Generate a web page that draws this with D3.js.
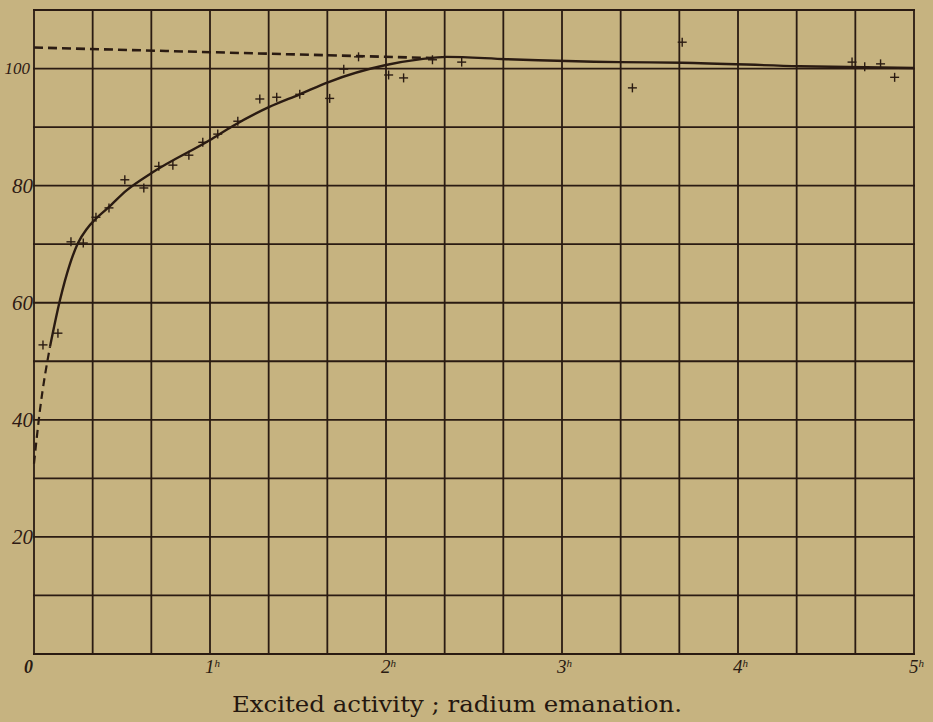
<!DOCTYPE html>
<html>
<head>
<meta charset="utf-8">
<script src="https://cdn.jsdelivr.net/npm/d3@7"></script>
<style>
  html, body { margin: 0; padding: 0; background: #c6b380; }
  svg { display: block; }
</style>
</head>
<body>
<svg id="chart" width="933" height="722"></svg>
<script>
// Excited activity of radium emanation: activity (%) against time (hours)

// Observed points (time in hours, activity in %)
const obsTime = [0.051, 0.136, 0.21, 0.28, 0.352, 0.426, 0.516, 0.624, 0.709, 0.789,
                 0.88, 0.959, 1.044, 1.158, 1.283, 1.379, 1.51, 1.68, 1.76, 1.844,
                 2.015, 2.1, 2.264, 2.43, 3.40, 3.683, 4.648, 4.72, 4.81, 4.89];
const obsValue = [52.8, 54.8, 70.4, 70.2, 74.6, 76.2, 81.0, 79.6, 83.3, 83.5,
                  85.2, 87.4, 88.8, 91.0, 94.8, 95.1, 95.6, 94.9, 99.9, 102.0,
                  98.9, 98.4, 101.5, 101.1, 96.7, 104.5, 101.1, 100.3, 100.8, 98.5];

// Smooth curve drawn through the observations
const curveTime  = [0.091, 0.148, 0.204, 0.25, 0.30, 0.35, 0.42, 0.526, 0.67, 1.0, 1.13,
                    1.334, 1.51, 1.674, 2.0, 2.2, 2.344, 2.685, 3.326, 3.68, 4.35, 5.0];
const curveValue = [52.5, 60.5, 66.6, 70.2, 72.6, 74.3, 76.2, 79.2, 82.2, 87.8, 90.2,
                    93.4, 95.6, 97.7, 100.6, 101.6, 102.0, 101.6, 101.1, 101.0, 100.4, 100.1];

// Dashed extrapolations: back to zero time, and the upper limiting line
const lowDashTime  = [0, 0.034, 0.091];
const lowDashValue = [32.5, 41.7, 52.5];
const topDashTime  = [0, 0.75, 1.5, 2.264];
const topDashValue = [103.6, 103.0, 102.4, 101.8];

// Axis labels
const yTicks = [20, 40, 60, 80, 100];
const xTicks = [1, 2, 3, 4, 5];
const caption = "Excited activity ;  radium emanation.";

const ink = "#2a1b12";
const svg = d3.select("#chart");

const x = d3.scaleLinear().domain([0, 5]).range([34, 914]);
const y = d3.scaleLinear().domain([0, 110]).range([654, 10]);

// grid: 20-minute verticals and 10% horizontals
const grid = svg.append("g").attr("stroke", ink).attr("stroke-width", 1.8).attr("fill", "none");
grid.selectAll("line.v").data(d3.range(0, 16).map(k => k / 3)).join("line")
  .attr("class", "v")
  .attr("x1", d => x(d)).attr("x2", d => x(d))
  .attr("y1", y(110)).attr("y2", y(0));
grid.selectAll("line.h").data(d3.range(0, 111, 10)).join("line")
  .attr("class", "h")
  .attr("x1", x(0) - 1).attr("x2", x(5) + 1)
  .attr("y1", d => y(d)).attr("y2", d => y(d));

const smooth = d3.line().x(d => x(d[0])).y(d => y(d[1])).curve(d3.curveMonotoneX);

// fitted curve
svg.append("path")
  .datum(d3.zip(curveTime, curveValue))
  .attr("d", smooth)
  .attr("fill", "none").attr("stroke", ink).attr("stroke-width", 2.4);

// dashed extrapolations
svg.append("path")
  .datum(d3.zip(topDashTime, topDashValue))
  .attr("d", smooth)
  .attr("fill", "none").attr("stroke", ink).attr("stroke-width", 2.6)
  .attr("stroke-dasharray", "9,5");
svg.append("path")
  .datum(d3.zip(lowDashTime, lowDashValue))
  .attr("d", smooth)
  .attr("fill", "none").attr("stroke", ink).attr("stroke-width", 2.2)
  .attr("stroke-dasharray", "8,5");

// observation crosses
const arm = 4.5;
const pts = svg.append("g").attr("stroke", ink).attr("stroke-width", 1.4);
d3.zip(obsTime, obsValue).forEach(([t, v]) => {
  pts.append("line").attr("x1", x(t) - arm).attr("x2", x(t) + arm)
    .attr("y1", y(v)).attr("y2", y(v));
  pts.append("line").attr("x1", x(t)).attr("x2", x(t))
    .attr("y1", y(v) - arm).attr("y2", y(v) + arm);
});

// y labels
svg.append("g")
  .selectAll("text").data(yTicks).join("text")
  .attr("x", d => d === 100 ? 30 : 33)
  .attr("y", d => y(d))
  .attr("dy", "0.35em")
  .attr("text-anchor", "end")
  .attr("font-family", "Liberation Serif, serif")
  .attr("font-style", "italic")
  .attr("font-size", d => d === 100 ? 17 : 21)
  .attr("fill", "#2e1a14")
  .text(d => d);

// x labels with hour mark
const xl = svg.append("g")
  .selectAll("text").data(xTicks).join("text")
  .attr("x", d => x(d) - 5)
  .attr("y", 673)
  .attr("font-family", "Liberation Serif, serif")
  .attr("font-style", "italic")
  .attr("font-size", 19)
  .attr("fill", ink);
xl.append("tspan").text(d => d);
xl.append("tspan").attr("font-size", 11).attr("dy", -6).text("h");

svg.append("text")
  .attr("x", 33).attr("y", 673)
  .attr("text-anchor", "end")
  .attr("font-family", "Liberation Serif, serif")
  .attr("font-style", "italic").attr("font-weight", "bold")
  .attr("font-size", 18)
  .attr("fill", ink)
  .text("0");

// caption
svg.append("text")
  .attr("x", 232).attr("y", 712)
  .attr("font-family", "DejaVu Serif, serif")
  .attr("font-size", 22)
  .attr("textLength", 450)
  .attr("lengthAdjust", "spacingAndGlyphs")
  .attr("fill", "#24170f")
  .text(caption);
</script>
</body>
</html>
